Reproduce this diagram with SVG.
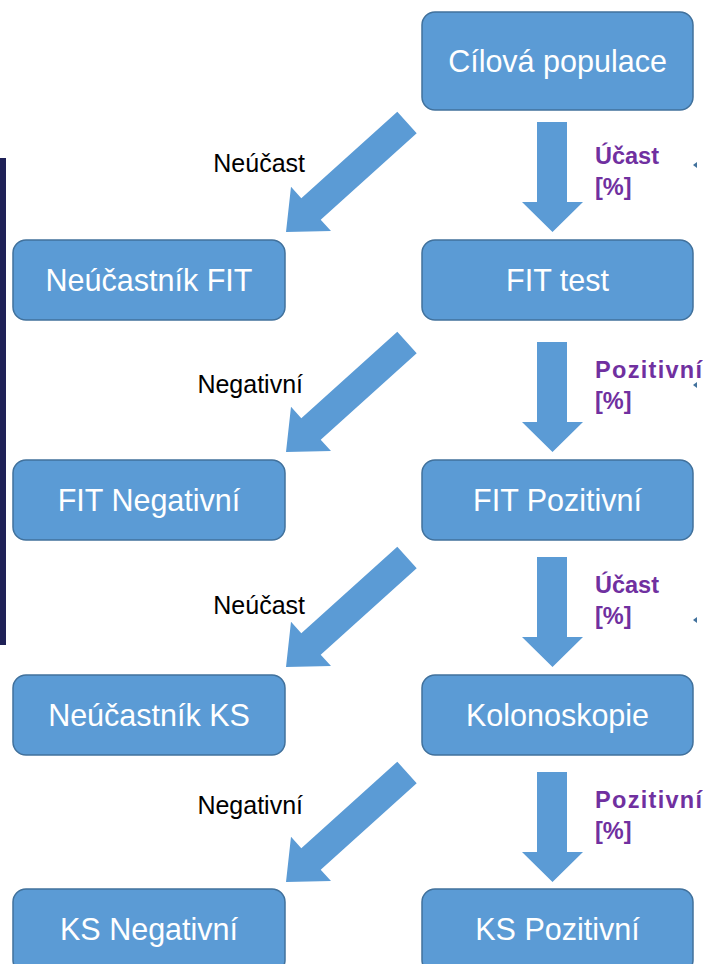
<svg xmlns="http://www.w3.org/2000/svg" xmlns:xlink="http://www.w3.org/1999/xlink" width="703" height="964" viewBox="0 0 703 964">
<style>
.box{fill:#5b9bd5;stroke:#41719c;stroke-width:1.5}
.bt{font-family:"Liberation Sans",Arial,sans-serif;font-size:30.5px;fill:#ffffff;text-anchor:middle}
.lab{font-family:"Liberation Sans",Arial,sans-serif;font-size:25px;fill:#000000;text-anchor:end}
.pl{font-family:"Liberation Sans",Arial,sans-serif;font-size:23.5px;font-weight:bold;fill:#7030a0}
.wide{letter-spacing:1.3px}
.arr{fill:#5b9bd5}
.mk{fill:#41719c}
</style>
<defs>
<polygon id="down" class="arr" points="537,122 567,122 567,202 583,202 552.5,232 522,202 537,202"/>
<polygon id="diag" class="arr" points="397.3,111.7 416.7,133.3 320.7,219.8 331,231 286,232 291,186.7 301.3,198.2"/>
</defs>
<rect x="0" y="158" width="6" height="487" fill="#1f2157"/>
<g id="connectors">
<use xlink:href="#down"/>
<use xlink:href="#down" y="220"/>
<use xlink:href="#down" y="435"/>
<use xlink:href="#down" y="650"/>
<use xlink:href="#diag"/>
<use xlink:href="#diag" y="220"/>
<use xlink:href="#diag" y="435"/>
<use xlink:href="#diag" y="650"/>
<text class="lab" x="305" y="172">Neúčast</text>
<text class="lab" x="303" y="393">Negativní</text>
<text class="lab" x="305" y="614">Neúčast</text>
<text class="lab" x="303" y="814">Negativní</text>
<text class="pl" x="595" y="164">Účast</text>
<text class="pl" x="595" y="195">[%]</text>
<text class="pl wide" x="595" y="378">Pozitivní</text>
<text class="pl" x="595" y="409">[%]</text>
<text class="pl" x="595" y="593">Účast</text>
<text class="pl" x="595" y="624">[%]</text>
<text class="pl wide" x="595" y="808">Pozitivní</text>
<text class="pl" x="595" y="839">[%]</text>
<polygon class="mk" points="697,162 697,168 693,165"/>
<polygon class="mk" points="697,382 697,388 693,385"/>
<polygon class="mk" points="697,617 697,623 693,620"/>
</g>
<g id="n-cilova"><rect class="box" x="422" y="12" width="271" height="98" rx="13"/><text class="bt" x="557.5" y="72">Cílová populace</text></g>
<g id="n-neucastnik-fit"><rect class="box" x="13" y="240" width="272" height="80" rx="13"/><text class="bt" x="149" y="291">Neúčastník FIT</text></g>
<g id="n-fit-test"><rect class="box" x="422" y="240" width="271" height="80" rx="13"/><text class="bt" x="557.5" y="291">FIT test</text></g>
<g id="n-fit-neg"><rect class="box" x="13" y="460" width="272" height="80" rx="13"/><text class="bt" x="149" y="511">FIT Negativní</text></g>
<g id="n-fit-poz"><rect class="box" x="422" y="460" width="271" height="80" rx="13"/><text class="bt" x="557.5" y="511">FIT Pozitivní</text></g>
<g id="n-neucastnik-ks"><rect class="box" x="13" y="675" width="272" height="80" rx="13"/><text class="bt" x="149" y="726">Neúčastník KS</text></g>
<g id="n-kolonoskopie"><rect class="box" x="422" y="675" width="271" height="80" rx="13"/><text class="bt" x="557.5" y="726">Kolonoskopie</text></g>
<g id="n-ks-neg"><rect class="box" x="13" y="889" width="272" height="84" rx="13"/><text class="bt" x="149" y="940">KS Negativní</text></g>
<g id="n-ks-poz"><rect class="box" x="422" y="889" width="271" height="84" rx="13"/><text class="bt" x="557.5" y="940">KS Pozitivní</text></g>
</svg>
